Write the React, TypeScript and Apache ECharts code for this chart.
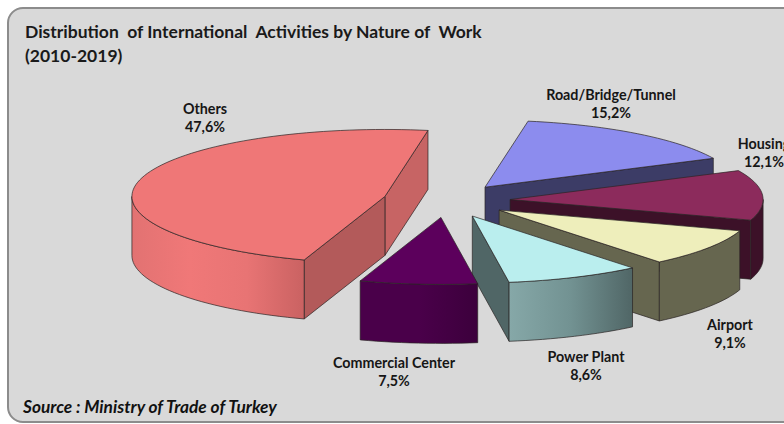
import React, { useEffect, useRef } from "react";
import * as echarts from "echarts";

const categories = ["Road/Bridge/Tunnel", "Housing", "Airport", "Power Plant", "Commercial Center", "Others"];
const shares = [15.2, 12.1, 9.1, 8.6, 7.5, 47.6];
const titleText = "Distribution  of International  Activities by Nature of  Work\n(2010-2019)";
const sourceText = "Source : Ministry of Trade of Turkey";

const topColors = ["#8c8cee", "#8c2b5c", "#eeeebb", "#baeeee", "#5c005c", "#ef7777"];
const faceColors = ["#3c3c66", "#3c1128", "#66664f", "#506666", "#3c003c", "#b35a5a"];
const endFaceColors = ["#3c3c66", "#3c1128", "#66664f", "#506666", "#3c003c", "#c76464"];
const wallStops = [
  ["#3c3c66", "#3c3c66"],
  ["#3c1128", "#3c1128"],
  ["#66664f", "#66664f"],
  ["#86a8a8", "#729292", "#506666"],
  ["#4a004a", "#4a004a", "#3c003c"],
  ["#e27272", "#f07878", "#e87474", "#ca6262"],
];
const labelCenters = [
  [611, 103], [764, 152], [730, 333], [586, 365], [394, 371], [205, 117],
];

const CX = 446.6, CY = 200.6, RX = 253, RY = 67, DEPTH = 59, EXPLODE = 0.2515, START = 9.8;

const rad = (d: number) => (d * Math.PI) / 180;
const onRim = (deg: number): [number, number] => [RX * Math.sin(rad(deg)), -RY * Math.cos(rad(deg))];
const total = shares.reduce((a, b) => a + b, 0);
const edge = { stroke: "#2a2424", lineWidth: 0.7 };

function renderSlice(params: any, api: any) {
  const i = params.dataIndex;
  const before = shares.slice(0, i).reduce((a, b) => a + b, 0);
  const a0 = START + (before / total) * 360;
  const a1 = a0 + (api.value(0) / total) * 360;
  const [ex, ey] = onRim((a0 + a1) / 2);
  const tx = CX + EXPLODE * ex;
  const ty = CY + EXPLODE * ey;
  const pt = (deg: number, dy = 0): number[] => {
    const [x, y] = onRim(deg);
    return [tx + x, ty + y + dy];
  };
  const arc = (from: number, to: number, dy = 0) => {
    const n = Math.max(2, Math.ceil((to - from) / 2));
    const out: number[][] = [];
    for (let k = 0; k <= n; k++) out.push(pt(from + ((to - from) * k) / n, dy));
    return out;
  };
  const children: any[] = [];
  const face = (deg: number, fill: string) => {
    const p = pt(deg);
    children.push({
      type: "polygon",
      shape: { points: [[tx, ty], p, [p[0], p[1] + DEPTH], [tx, ty + DEPTH]] },
      style: { fill, ...edge },
    });
  };
  if (Math.sin(rad(a1)) > 0) face(a1, endFaceColors[i]);
  if (Math.sin(rad(a0)) < 0) face(a0, faceColors[i]);
  const w0 = Math.max(a0, 90);
  const w1 = Math.min(a1, 270);
  if (w1 > w0) {
    const stops = wallStops[i];
    const fill = new echarts.graphic.LinearGradient(
      0, 0, 1, 0,
      stops.map((color, k) => ({ offset: k / Math.max(1, stops.length - 1), color }))
    );
    children.push({
      type: "polygon",
      shape: { points: [...arc(w0, w1), ...arc(w0, w1, DEPTH).reverse()] },
      style: { fill, ...edge },
    });
  }
  children.push({
    type: "polygon",
    shape: { points: [[tx, ty], ...arc(a0, a1)] },
    style: { fill: topColors[i], ...edge },
  });
  children.push({
    type: "text",
    x: labelCenters[i][0],
    y: labelCenters[i][1],
    style: {
      text: `${categories[i]}\n${shares[i].toFixed(1).replace(".", ",")}%`,
      font: "bold 14.3px Lato",
      lineHeight: 18,
      fill: "#161616",
      align: "center",
      verticalAlign: "middle",
    },
  });
  return { type: "group", children };
}

export default function App() {
  const ref = useRef<HTMLDivElement>(null);
  useEffect(() => {
    document.body.style.margin = "0";
    const chart = echarts.init(ref.current!, undefined, { renderer: "svg" });
    chart.setOption({
      animation: false,
      backgroundColor: "#ffffff",
      title: {
        text: titleText,
        left: 20,
        top: 15,
        textStyle: { fontFamily: "Lato", fontWeight: "bold", fontSize: 17.5, lineHeight: 23.5, color: "#1a1a1a" },
      },
      graphic: [
        {
          type: "rect",
          z: -10,
          shape: { x: 8, y: 8, width: 820, height: 414, r: 15 },
          style: { fill: "#d9d9d9", stroke: "#8c8c8c", lineWidth: 2 },
        },
        {
          type: "text",
          z: 10,
          x: 23,
          y: 406,
          style: {
            text: sourceText,
            font: "italic bold 17.3px Lato",
            fill: "#111111",
            verticalAlign: "middle",
          },
        },
      ],
      series: [
        {
          type: "custom",
          coordinateSystem: "none",
          data: shares.map((v) => [v]),
          renderItem: renderSlice,
          silent: true,
        },
      ],
    });
    return () => chart.dispose();
  }, []);
  return <div ref={ref} style={{ width: 784, height: 424, position: "fixed", left: 0, top: 0 }} />;
}
